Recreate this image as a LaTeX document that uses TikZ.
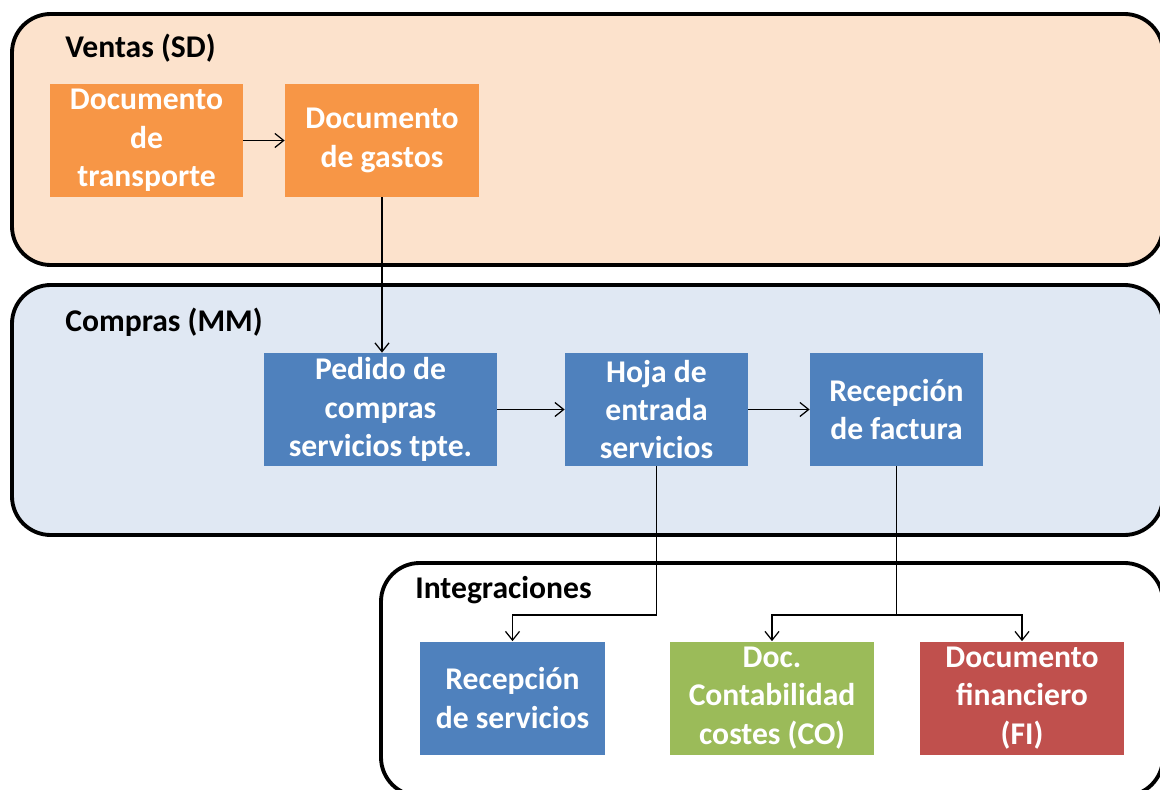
\documentclass[tikz,border=0pt]{standalone}
\usepackage{fontspec}
\setmainfont{Carlito}
\usetikzlibrary{arrows.meta}
\definecolor{naranja}{HTML}{F79646}
\definecolor{azul}{HTML}{4F81BD}
\definecolor{verde}{HTML}{9BBB59}
\definecolor{rojo}{HTML}{C0504D}
\definecolor{fondoventas}{HTML}{FCE2CC}
\definecolor{fondocompras}{HTML}{E0E8F3}
\begin{document}
\begin{tikzpicture}[x=0.02cm,y=-0.02cm,
    area/.style={draw=black,line width=2.2pt,rounded corners=22pt},
    caja/.style={draw=none,text=white,align=center,inner sep=0pt,
      font=\fontsize{18}{21.8}\selectfont\bfseries},
    titulo/.style={anchor=west,inner sep=0pt,font=\fontsize{18}{20}\selectfont\bfseries},
    flecha/.style={-{Straight Barb[length=5pt,width=8pt]},line width=0.7pt}]
  \useasboundingbox (0,0) rectangle (1160,790);
  \clip (0,0) rectangle (1160,790);
  % areas
  \draw[area,fill=fondoventas] (12,14) rectangle (1163,265);
  \draw[area,fill=fondocompras] (12,285) rectangle (1163,535);
  \draw[area,fill=white] (381,563) rectangle (1163,796);
  \node[titulo] (ventas) at (65,48) {Ventas (SD)};
  \node[titulo] (compras) at (65,322) {Compras (MM)};
  \node[titulo] (integ) at (415,590) {Integraciones};
  % ventas
  \node[caja,fill=naranja,minimum width=193*0.02cm,minimum height=113*0.02cm] (trans) at (146.5,140.5) {Documento\\de\\transporte};
  \node[caja,fill=naranja,minimum width=194*0.02cm,minimum height=113*0.02cm] (gastos) at (382,140.5) {Documento\\de gastos};
  % compras
  \node[caja,fill=azul,minimum width=233*0.02cm,minimum height=113*0.02cm] (pedido) at (380.5,409.5) {Pedido de\\compras\\servicios tpte.};
  \node[caja,fill=azul,minimum width=183*0.02cm,minimum height=113*0.02cm] (hoja) at (656.5,409.5) {Hoja de\\entrada\\servicios};
  \node[caja,fill=azul,minimum width=173*0.02cm,minimum height=113*0.02cm] (factura) at (896.5,409.5) {Recepción\\de factura};
  % integraciones
  \node[caja,fill=azul,minimum width=185*0.02cm,minimum height=113*0.02cm] (recserv) at (512.5,698) {Recepción\\de servicios};
  \node[caja,fill=verde,minimum width=204*0.02cm,minimum height=113*0.02cm] (contab) at (772,698) {Doc.\\Contabilidad\\costes (CO)};
  \node[caja,fill=rojo,minimum width=204*0.02cm,minimum height=113*0.02cm] (financ) at (1022,698) {Documento\\financiero\\(FI)};
  % flechas
  \coordinate (rama1) at (656.5,615);
  \coordinate (rama2) at (896.5,615);
  \draw[flecha] (trans) -- (gastos);
  \draw[flecha] (gastos) -- (pedido.north -| gastos);
  \draw[flecha] (pedido) -- (hoja);
  \draw[flecha] (hoja) -- (factura);
  \draw[flecha] (hoja.south) -- (rama1) -| (recserv.north);
  \draw[flecha] (factura.south) -- (rama2) -| (contab.north);
  \draw[flecha] (rama2) -| (financ.north);
\end{tikzpicture}
\end{document}
